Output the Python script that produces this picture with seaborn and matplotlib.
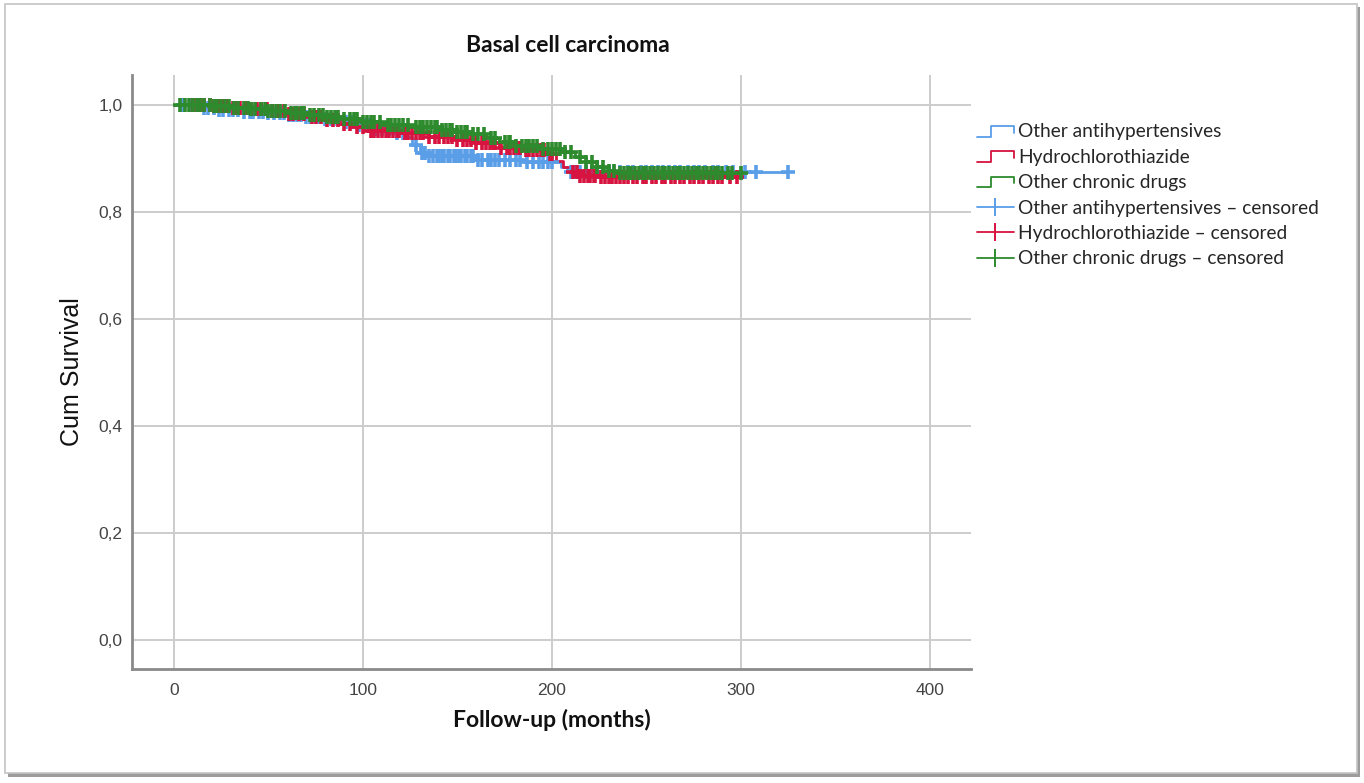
import numpy as np
import pandas as pd
import matplotlib
matplotlib.use("Agg")
import matplotlib.pyplot as plt
import seaborn as sns
from matplotlib.lines import Line2D
from matplotlib.legend_handler import HandlerBase
from matplotlib.patches import Rectangle

# ---------------- data ----------------
groups = ["Other antihypertensives", "Hydrochlorothiazide", "Other chronic drugs"]
colors = ["#5a9ee8", "#d7133f", "#2d8a2d"]

# step functions: event times and survival after each step
blue_t = [0, 15, 22, 35, 50, 60, 70, 80, 88, 95, 105, 115, 122, 126, 130, 135, 160, 185, 205, 208, 325]
blue_s = [1.000, 0.995, 0.990, 0.987, 0.985, 0.982, 0.978, 0.973, 0.968, 0.962, 0.955, 0.948, 0.940,
          0.925, 0.910, 0.905, 0.898, 0.893, 0.885, 0.875, 0.875]
red_t = [0, 20, 30, 40, 50, 60, 70, 80, 88, 95, 102, 120, 135, 150, 160, 172, 185, 198, 202, 206, 210,
         215, 225, 298]
red_s = [1.000, 0.998, 0.995, 0.992, 0.988, 0.983, 0.978, 0.971, 0.965, 0.958, 0.952, 0.947, 0.940,
         0.934, 0.928, 0.920, 0.915, 0.908, 0.895, 0.885, 0.875, 0.868, 0.865, 0.865]
green_t = [0, 20, 30, 40, 50, 60, 70, 80, 90, 100, 110, 125, 140, 150, 158, 165, 172, 180, 195, 205,
           212, 218, 224, 230, 236, 300]
green_s = [1.000, 0.998, 0.995, 0.992, 0.988, 0.985, 0.982, 0.978, 0.973, 0.968, 0.962, 0.958, 0.954,
           0.950, 0.945, 0.938, 0.930, 0.923, 0.918, 0.912, 0.902, 0.893, 0.885, 0.877, 0.872, 0.872]

# censoring times
blue_c = [5, 9, 12, 16, 18, 21, 24, 26, 29, 31, 34, 37, 40, 42, 45, 47, 50, 53, 56, 58, 61, 63, 65,
          67, 70, 72, 75, 77, 80, 83, 86, 91, 94, 98, 101, 103, 107, 110, 114, 118, 121, 128, 131,
          133, 135, 137, 139, 140, 142, 143, 145, 146, 148, 149, 151, 152, 154, 155, 157, 158, 161,
          163, 166, 168, 170, 172, 175, 178, 181, 183, 187, 190, 193, 195, 198, 200, 210, 212, 215,
          218, 221, 224, 227, 230, 233, 236, 240, 243, 247, 250, 253, 256, 259, 262, 265, 268, 272,
          275, 278, 281, 285, 288, 292, 296, 302, 308, 325]
red_c = [10, 12, 14, 16, 19, 21, 24, 26, 28, 31, 33, 35, 38, 41, 44, 46, 49, 52, 55, 58, 61, 63, 66,
         69, 73, 75, 78, 81, 84, 87, 90, 93, 97, 100, 104, 106, 108, 110, 112, 114, 116, 118, 119,
         122, 124, 126, 128, 130, 132, 135, 138, 140, 143, 145, 147, 150, 153, 155, 157, 160, 163,
         165, 167, 169, 170, 173, 176, 178, 180, 182, 183, 186, 188, 190, 192, 194, 196, 199, 200,
         211, 213, 215, 217, 219, 220, 222, 223, 226, 228, 230, 232, 234, 236, 238, 240, 243, 245,
         248, 250, 253, 255, 258, 260, 263, 265, 268, 270, 273, 275, 278, 280, 283, 285, 288, 290,
         294, 298]
green_c = [3, 6, 8, 10, 12, 14, 16, 19, 21, 23, 25, 27, 29, 32, 34, 37, 39, 41, 43, 46, 48, 50, 52,
           54, 56, 59, 62, 64, 65, 67, 69, 72, 74, 77, 79, 81, 83, 85, 87, 90, 93, 95, 97, 100, 102,
           104, 106, 109, 113, 115, 117, 119, 121, 124, 128, 130, 132, 134, 136, 138, 139, 142, 144,
           146, 147, 150, 152, 154, 155, 158, 161, 164, 168, 170, 175, 177, 178, 181, 184, 186, 188,
           190, 192, 195, 198, 200, 202, 204, 207, 210, 215, 218, 221, 224, 227, 230, 233, 236, 238,
           240, 242, 244, 246, 248, 250, 252, 254, 256, 258, 260, 262, 264, 266, 268, 270, 272, 274,
           276, 278, 280, 282, 284, 286, 288, 290, 293, 295, 300]

x_ticks = [0, 100, 200, 300, 400]
y_ticks = [0.0, 0.2, 0.4, 0.6, 0.8, 1.0]
y_ticklabels = ["0,0", "0,2", "0,4", "0,6", "0,8", "1,0"]
title = "Basal cell carcinoma"
xlabel = "Follow-up (months)"
ylabel = "Cum Survival"

steps = [(blue_t, blue_s), (red_t, red_s), (green_t, green_s)]
cens = [blue_c, red_c, green_c]

# ---------------- figure ----------------
sns.set_theme(style="white")
plt.rcParams["font.family"] = ["Lato", "DejaVu Sans"]

W, H = 1364, 783
fig = plt.figure(figsize=(W / 100, H / 100), dpi=100)
fig.patch.set_facecolor("white")

# outer frame with shadow
fig.patches.append(Rectangle((8 / W, 1 - 777 / H), 1352 / W, 770 / H, transform=fig.transFigure,
                             facecolor="#9c9c9c", edgecolor="none", zorder=-3))
fig.patches.append(Rectangle((5 / W, 1 - 773 / H), 1352 / W, 769 / H, transform=fig.transFigure,
                             facecolor="white", edgecolor="#c4c4c4", lw=1.2, zorder=-2))

ax = fig.add_axes([132 / W, 1 - 669 / H, (971 - 132) / W, (669 - 75) / H])
ax.set_facecolor("none")

for (t, s), c_times, col, name in zip(steps, cens, colors, groups):
    df = pd.DataFrame({"time": t, "surv": s})
    sns.lineplot(data=df, x="time", y="surv", drawstyle="steps-post", color=col, lw=2.0,
                 ax=ax, estimator=None, sort=False, zorder=3)
    idx = np.searchsorted(np.array(t), np.array(c_times), side="right") - 1
    cdf = pd.DataFrame({"time": c_times, "surv": np.array(s)[idx]})
    sns.scatterplot(data=cdf, x="time", y="surv", marker="+", s=95, color=col,
                    linewidth=2.6, ax=ax, zorder=4)

ax.set_xlim(-22.2, 421.7)
ax.set_ylim(-0.054, 1.056)
ax.set_xticks(x_ticks)
ax.set_xticklabels([str(v) for v in x_ticks])
ax.set_yticks(y_ticks)
ax.set_yticklabels(y_ticklabels)
ax.grid(True, color="#cccccc", lw=1.4)
ax.set_axisbelow(True)
for side in ["top", "right"]:
    ax.spines[side].set_visible(False)
for side in ["left", "bottom"]:
    ax.spines[side].set_color("#8a8a8a")
    ax.spines[side].set_linewidth(2)
ax.tick_params(length=0, labelsize=12.5, labelcolor="#444444")
ax.tick_params(axis="x", pad=10)
ax.tick_params(axis="y", pad=7)
for lab in ax.get_xticklabels() + ax.get_yticklabels():
    lab.set_family(["Liberation Sans", "DejaVu Sans"])

ax.set_xlabel(xlabel, fontsize=16.5, fontweight="bold", color="#111111", labelpad=8)
ax.set_ylabel(ylabel, fontsize=18, family=["Liberation Sans", "DejaVu Sans"], color="#111111",
              labelpad=10)
fig.text(568 / W, 1 - 46 / H, title, ha="center", va="center", fontsize=16.5, fontweight="bold",
         color="#111111")


# ---------------- legend ----------------
class StepHandle:
    def __init__(self, color):
        self.color = color


class StepHandler(HandlerBase):
    def create_artists(self, legend, orig_handle, xdescent, ydescent, width, height, fontsize, trans):
        x0, y0 = -xdescent, -ydescent
        xs = [x0, x0 + 0.38 * width, x0 + 0.38 * width, x0 + width, x0 + width]
        ys = [y0 + 0.05 * height, y0 + 0.05 * height, y0 + 0.85 * height, y0 + 0.85 * height,
              y0 + 0.35 * height]
        ln = Line2D(xs, ys, color=orig_handle.color, lw=1.3, transform=trans)
        return [ln]


handles = [StepHandle(c) for c in colors]
handles += [Line2D([], [], color=c, lw=1.3, marker="|", ms=13, mew=1.4) for c in colors]
labels = groups + [g + " \u2013 censored" for g in groups]
fig.legend(handles, labels, loc="upper left", bbox_to_anchor=(960 / W, 1 - 106 / H),
           frameon=False, fontsize=13.8, handlelength=1.9, handletextpad=0.25, labelspacing=0.44,
           handler_map={StepHandle: StepHandler()})

fig.savefig("out.png", dpi=100, facecolor="white")
